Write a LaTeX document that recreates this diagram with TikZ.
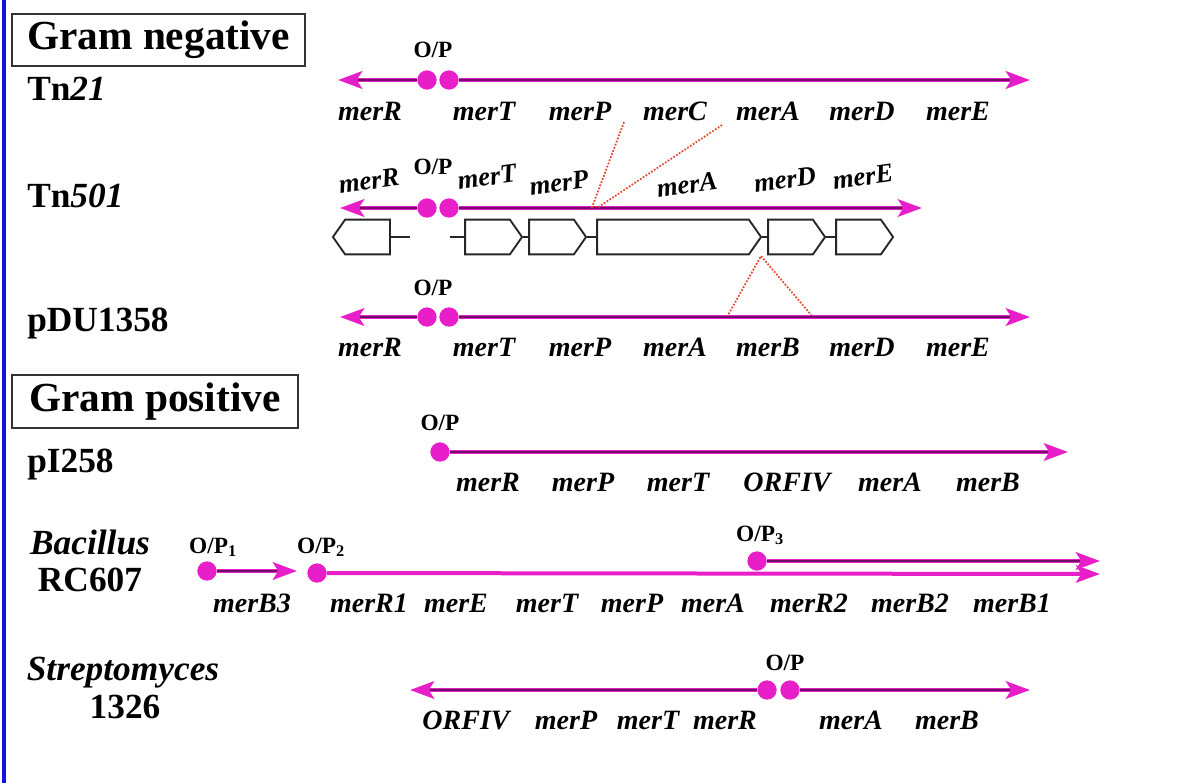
\documentclass[tikz,border=0pt]{standalone}
\usepackage{fontspec}
\setmainfont{Liberation Serif}
\usetikzlibrary{arrows.meta,shapes.symbols}
\definecolor{opmagenta}{HTML}{E81EC8}
\definecolor{opdark}{HTML}{700F66}
\definecolor{joinred}{HTML}{E2462E}
\definecolor{frameblue}{HTML}{1212E8}
\definecolor{boxline}{HTML}{333333}
\newcommand{\genesize}{\fontsize{21}{24}\selectfont}
\newcommand{\strainsize}{\fontsize{26.5}{30}\selectfont}
\tikzset{
 every node/.append style={inner sep=0pt,text=black},
 gene/.style={font=\genesize\bfseries\itshape,anchor=base},
 strain/.style={font=\strainsize\bfseries,anchor=base west},
 oplabel/.style={font=\fontsize{17.5}{21}\selectfont\bfseries,anchor=base},
 groupbox/.style={draw=boxline,line width=1.2pt,font=\fontsize{31}{36}\selectfont\bfseries},
 opdot/.style={circle,fill=opmagenta,minimum size=14.5pt},
 mapline/.style={draw=opmagenta,line width=3.4pt,-{Stealth[length=18pt,width=13pt,inset=4pt]},
   postaction={draw=opdark,line width=1.7pt,arrows=-,shorten >=15pt}},
 plainline/.style={draw=opmagenta,line width=3pt,-{Stealth[length=18pt,width=13pt,inset=4pt]}},
 orf/.style={signal,signal to=east,signal pointer angle=110,draw=black!85,line width=1.4pt,
   fill=white,minimum height=26pt,minimum width=42.75pt},
 orfline/.style={draw=black!85,line width=1.4pt},
 joinline/.style={draw=joinred,line width=1.3pt,dash pattern=on 1.3pt off 1.2pt},
}
\begin{document}
\begin{tikzpicture}[x=0.75pt,y=-0.75pt]
\useasboundingbox (0,0) rectangle (1180,783);
\draw[frameblue,line width=2.4pt] (4,0) -- (4,783);

% Gram negative
\node[groupbox,minimum width=219.75pt,minimum height=39pt] (gneg) at (158.5,40) {Gram negative};

% Tn21
\node[strain] (tn21) at (27,100) {Tn\textit{21}};
\node[opdot] (t21dotL) at (427,80) {};
\node[opdot] (t21dotR) at (449,80) {};
\coordinate (t21tipL) at (338,80);
\coordinate (t21tipR) at (1030,80);
\draw[mapline] (t21dotL) -- (t21tipL);
\draw[mapline] (t21dotR) -- (t21tipR);
\node[oplabel] (t21op) at (433,57) {O/P};
\foreach \g/\x in {R/370,T/484,P/580,C/675,A/768,D/862,E/958}
  \node[gene] (t21\g) at (\x,120) {mer\g};

% Tn501
\node[strain] (tn501) at (27,207) {Tn\textit{501}};
\node[opdot] (t501dotL) at (427,208) {};
\node[opdot] (t501dotR) at (449,208) {};
\coordinate (t501tipL) at (340,208);
\coordinate (t501tipR) at (922,208);
\draw[mapline] (t501dotL) -- (t501tipL);
\draw[mapline] (t501dotR) -- (t501tipR);
\node[oplabel] (t501op) at (433,174) {O/P};
\foreach \g/\x/\y in {R/369/181,T/487/177,P/559/183,A/687/185,D/785/180,E/863/177}
  \node[gene,anchor=center,rotate=8,font=\fontsize{20}{24}\selectfont\bfseries\itshape]
    (t501\g) at (\x,\y) {mer\g};

\node[orf,signal to=west] (orfR) at (367.5,237) {};
\node[orf] (orfT) at (487.5,237) {};
\node[orf] (orfP) at (551.5,237) {};
\node[orf,minimum width=123pt] (orfA) at (673,237) {};
\node[orf] (orfD) at (790.5,237) {};
\node[orf] (orfE) at (858.5,237) {};
\coordinate (stubR) at (410,237);
\coordinate (stubT) at (450,237);
\draw[orfline] (orfR.east) -- (stubR);
\draw[orfline] (orfT.west) -- (stubT);
\draw[orfline] (orfT.east) -- (orfP.west);
\draw[orfline] (orfP.east) -- (orfA.west);
\draw[orfline] (orfA.east) -- (orfD.west);
\draw[orfline] (orfD.east) -- (orfE.west);

% dotted joins
\coordinate (j1a) at (624,122); \coordinate (j1b) at (591,210);
\coordinate (j2a) at (722,125); \coordinate (j2b) at (597,208);
\coordinate (j3a) at (761,256); \coordinate (j3b) at (727,317);
\coordinate (j3c) at (813,317);
\draw[joinline] (j1a) -- (j1b);
\draw[joinline] (j2a) -- (j2b);
\draw[joinline] (j3b) -- (j3a) -- (j3c);

% pDU1358
\node[strain] (pdu) at (27,331) {pDU1358};
\node[opdot] (pdudotL) at (427,317) {};
\node[opdot] (pdudotR) at (449,317) {};
\coordinate (pdutipL) at (340,317);
\coordinate (pdutipR) at (1030,317);
\draw[mapline] (pdudotL) -- (pdutipL);
\draw[mapline] (pdudotR) -- (pdutipR);
\node[oplabel] (pduop) at (433,295) {O/P};
\foreach \g/\x in {R/370,T/484,P/580,A/675,B/768,D/862,E/958}
  \node[gene] (pdu\g) at (\x,356) {mer\g};

% Gram positive
\node[groupbox,minimum width=214.5pt,minimum height=39.75pt] (gpos) at (155,401.5) {Gram positive};

% pI258
\node[strain] (pi) at (27,472) {pI258};
\node[opdot] (pidot) at (440,452) {};
\coordinate (pitip) at (1068,452);
\draw[mapline] (pidot) -- (pitip);
\node[oplabel] (piop) at (440,430) {O/P};
\foreach \g/\x in {merR/488,merP/583,merT/678,ORFIV/787,merA/890,merB/988}
  \node[gene] (pi\g) at (\x,491) {\g};

% Bacillus RC607
\node[strain,anchor=base,font=\strainsize\bfseries\itshape] (bac) at (90,554) {Bacillus};
\node[strain,anchor=base] (rc) at (90,591) {RC607};
\node[opdot] (bacdot1) at (207,571) {};
\node[opdot] (bacdot2) at (317,573) {};
\node[opdot] (bacdot3) at (757,561) {};
\coordinate (bactip1) at (297,571);
\coordinate (bactip2) at (1100,574);
\coordinate (bactip3) at (1100,561);
\draw[mapline] (bacdot1) -- (bactip1);
\draw[plainline] (bacdot2) -- (bactip2);
\draw[mapline] (bacdot3) -- (bactip3);
\node[oplabel] (bacop1) at (213,553) {O/P\textsubscript{1}};
\node[oplabel] (bacop2) at (321,553) {O/P\textsubscript{2}};
\node[oplabel] (bacop3) at (760,541) {O/P\textsubscript{3}};
\foreach \g/\x in {B3/252,R1/369,E/456,T/547,P/632,A/713,R2/809,B2/910,B1/1012}
  \node[gene] (bac\g) at (\x,612) {mer\g};

% Streptomyces 1326
\node[strain,anchor=base,font=\strainsize\bfseries\itshape] (strep) at (123,680) {Streptomyces};
\node[strain,anchor=base] (s1326) at (125,718) {1326};
\node[opdot] (stdotL) at (767,690) {};
\node[opdot] (stdotR) at (790,690) {};
\coordinate (sttipL) at (410,690);
\coordinate (sttipR) at (1030,690);
\draw[mapline] (stdotL) -- (sttipL);
\draw[mapline] (stdotR) -- (sttipR);
\node[oplabel] (stop) at (785,670) {O/P};
\foreach \g/\x in {ORFIV/466,merP/566,merT/648,merR/725,merA/851,merB/947}
  \node[gene] (st\g) at (\x,729) {\g};
\end{tikzpicture}
\end{document}
